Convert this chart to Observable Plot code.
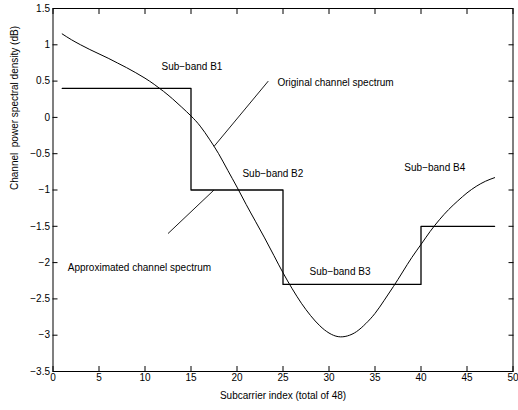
<!DOCTYPE html>
<html>
<head>
<meta charset="utf-8">
<script src="https://cdn.jsdelivr.net/npm/d3@7"></script>
<script src="https://cdn.jsdelivr.net/npm/@observablehq/plot@0.6"></script>
<style>
  html, body { margin: 0; padding: 0; background: #fff; }
  #chart svg { display: block; }
</style>
</head>
<body>
<div id="chart"></div>
<script>
// Original channel spectrum (subcarrier index -> dB)
const subcarriers = d3.range(1, 49);
const originalDb = [
  1.15, 1.07, 1.00, 0.935, 0.875, 0.815, 0.75, 0.685, 0.615, 0.54,
  0.455, 0.36, 0.255, 0.14, 0.02, -0.12, -0.30, -0.50, -0.73, -0.96,
  -1.20, -1.43, -1.66, -1.90, -2.14, -2.36, -2.56, -2.73, -2.87, -2.97,
  -3.02, -3.01, -2.95, -2.84, -2.70, -2.52, -2.33, -2.13, -1.93, -1.75,
  -1.57, -1.41, -1.27, -1.15, -1.04, -0.95, -0.88, -0.83
];

// Approximated (piecewise-constant) spectrum per sub-band
const bandStart = [1, 15, 25, 40];
const bandEnd = [15, 25, 40, 48];
const bandLevel = [0.4, -1, -2.3, -1.5];

// Annotations
const bandLabels = ["Sub\u2212band B1", "Sub\u2212band B2", "Sub\u2212band B3", "Sub\u2212band B4"];
const bandLabelX = [15.1, 23.9, 31.2, 41.5];
const bandLabelY = [0.70, -0.78, -2.12, -0.69];

const calloutText = ["Original channel spectrum", "Approximated channel spectrum"];
const calloutTextX = [24.4, 1.6];
const calloutTextY = [0.48, -2.07];
const pointerFromX = [17.5, 17.5];
const pointerFromY = [-0.40, -1.0];
const pointerToX = [23.4, 12.5];
const pointerToY = [0.50, -1.6];

const xTicks = [0, 5, 10, 15, 20, 25, 30, 35, 40, 45, 50];
const yTicks = [-3.5, -3, -2.5, -2, -1.5, -1, -0.5, 0, 0.5, 1, 1.5];

const xLabel = "Subcarrier index (total of 48)";
const yLabel = "Channel  power spectral density (dB)";

// Build tables
const original = subcarriers.map((x, i) => ({x, y: originalDb[i]}));
const approx = bandStart.map((x, i) => ({x, y: bandLevel[i]}));
approx.push({x: bandEnd[bandEnd.length - 1], y: bandLevel[bandLevel.length - 1]});
const bands = bandLabels.map((t, i) => ({t, x: bandLabelX[i], y: bandLabelY[i]}));
const callouts = calloutText.map((t, i) => ({t, x: calloutTextX[i], y: calloutTextY[i]}));
const pointers = pointerFromX.map((x1, i) => ({x1, y1: pointerFromY[i], x2: pointerToX[i], y2: pointerToY[i]}));

const fmt = d => String(d).replace("-", "\u2212");
const font = "Liberation Sans, Arial, Helvetica, sans-serif";

const chart = Plot.plot({
  width: 518,
  height: 410,
  marginLeft: 52.5,
  marginRight: 5.5,
  marginTop: 8,
  marginBottom: 39,
  style: {fontFamily: font, fontSize: "10px", color: "#000", background: "#fff"},
  x: {domain: [0, 50], label: null},
  y: {domain: [-3.5, 1.5], label: null},
  marks: [
    Plot.axisX({ticks: xTicks, tickSize: -5, tickPadding: 7, tickFormat: fmt, fontSize: 10, label: null}),
    Plot.axisX({anchor: "top", ticks: xTicks, tickSize: -5, tickFormat: () => "", label: null}),
    Plot.axisY({ticks: yTicks, tickSize: -5, tickPadding: 8, tickFormat: fmt, fontSize: 10, label: null}),
    Plot.axisY({anchor: "right", ticks: yTicks, tickSize: -5, tickFormat: () => "", label: null}),
    Plot.line(original, {x: "x", y: "y", stroke: "#000", strokeWidth: 1, curve: "natural"}),
    Plot.line(approx, {x: "x", y: "y", stroke: "#000", strokeWidth: 1.3, curve: "step-after"}),
    Plot.link(pointers, {x1: "x1", y1: "y1", x2: "x2", y2: "y2", stroke: "#000", strokeWidth: 0.9}),
    Plot.text(bands, {x: "x", y: "y", text: "t", fontSize: 10, fill: "#000"}),
    Plot.text(callouts, {x: "x", y: "y", text: "t", fontSize: 10, fill: "#000", textAnchor: "start"}),
    Plot.text([xLabel], {text: d => d, frameAnchor: "bottom", dy: 27, fontSize: 10, fill: "#000"}),
    Plot.text([yLabel], {text: d => d, frameAnchor: "left", dx: -38.5, rotate: -90, fontSize: 10, fill: "#000"}),
    Plot.frame({stroke: "#000", strokeWidth: 1})
  ]
});
document.getElementById("chart").appendChild(chart);
</script>
</body>
</html>
